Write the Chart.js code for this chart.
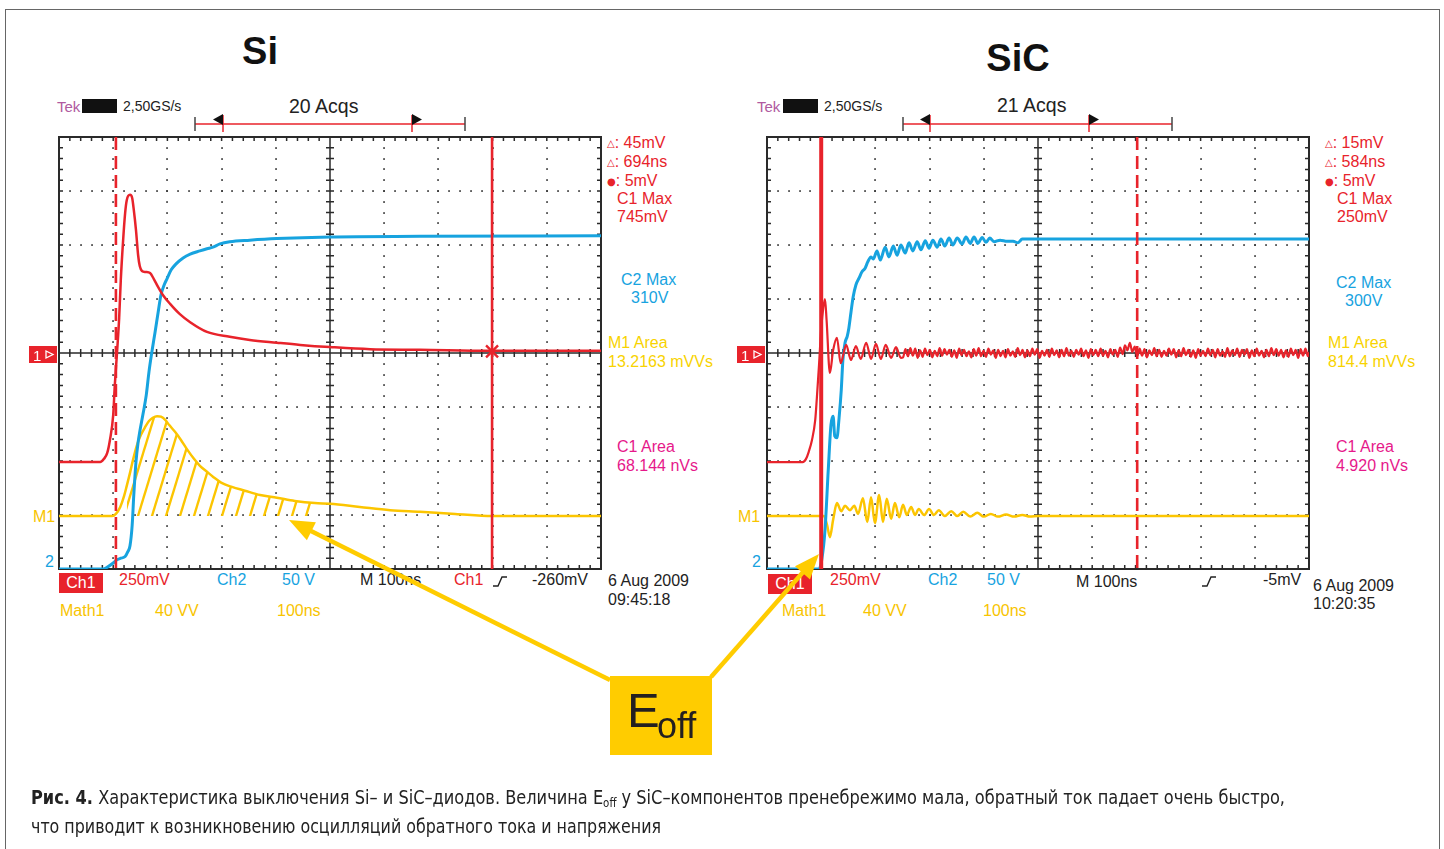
<!DOCTYPE html>
<html><head><meta charset="utf-8">
<script src="https://cdn.jsdelivr.net/npm/chart.js@4.4.1/dist/chart.umd.min.js"></script>
<style>
html,body{margin:0;padding:0;background:#fff;}
body{width:1444px;height:849px;position:relative;overflow:hidden;font-family:"Liberation Sans",Arimo,Arial,sans-serif;}
.frame{position:absolute;left:5px;top:9px;width:1435px;height:900px;border:1.5px solid #666;box-sizing:border-box;}
.t{position:absolute;white-space:nowrap;line-height:1;}
.g{font-family:"DejaVu Sans",sans-serif;font-size:10px;vertical-align:1px;}
.box{position:absolute;color:#fff;text-align:center;background:#e8232b;font-size:16px;}
canvas{position:absolute;}
#ov{position:absolute;left:0;top:0;}
.cap{position:absolute;left:31px;white-space:nowrap;line-height:1;font-family:"Liberation Sans Narrow","DejaVu Sans Condensed","Roboto",sans-serif;font-size:19px;color:#222;transform-origin:0 0;}
.cap sub{font-size:12px;vertical-align:-3px;line-height:0;}
</style></head><body>
<div class="frame"></div>
<div id="labels"></div>
<canvas id="si" width="566" height="456" style="left:47px;top:125px"></canvas>
<canvas id="sic" width="566" height="456" style="left:755px;top:125px"></canvas>
<svg id="ov" width="1444" height="849" xmlns="http://www.w3.org/2000/svg">
  <line x1="195" y1="124" x2="465" y2="124" stroke="#e8232b" stroke-width="1.5"/>
  <line x1="195" y1="117" x2="195" y2="131" stroke="#444" stroke-width="1.5"/>
  <line x1="465" y1="117" x2="465" y2="131" stroke="#444" stroke-width="1.5"/>
  <line x1="223" y1="115" x2="223" y2="132" stroke="#e8232b" stroke-width="1.5"/>
  <line x1="412" y1="115" x2="412" y2="132" stroke="#e8232b" stroke-width="1.5"/>
  <polygon points="213,119.5 223,114 223,125" fill="#111"/>
  <polygon points="422,119.5 412,114 412,125" fill="#111"/>
  <line x1="903" y1="124" x2="1172" y2="124" stroke="#e8232b" stroke-width="1.5"/>
  <line x1="903" y1="117" x2="903" y2="131" stroke="#444" stroke-width="1.5"/>
  <line x1="1172" y1="117" x2="1172" y2="131" stroke="#444" stroke-width="1.5"/>
  <line x1="930" y1="115" x2="930" y2="132" stroke="#e8232b" stroke-width="1.5"/>
  <line x1="1089" y1="115" x2="1089" y2="132" stroke="#e8232b" stroke-width="1.5"/>
  <polygon points="920,119.5 930,114 930,125" fill="#111"/>
  <polygon points="1099,119.5 1089,114 1089,125" fill="#111"/>
  <rect x="29" y="346" width="28" height="17" fill="#e8232b"/>
  <text x="33" y="360.5" font-size="15" fill="#fff" font-family="Liberation Sans, Arial, sans-serif">1</text>
  <polygon points="46,351 53,354.5 46,358" fill="none" stroke="#fff" stroke-width="1.3"/>
  <rect x="737" y="346" width="28" height="17" fill="#e8232b"/>
  <text x="741" y="360.5" font-size="15" fill="#fff" font-family="Liberation Sans, Arial, sans-serif">1</text>
  <polygon points="754,351 761,354.5 754,358" fill="none" stroke="#fff" stroke-width="1.3"/>
  <polyline points="493,586 498,586 502,577 507,577" fill="none" stroke="#222" stroke-width="1.4"/>
  <polyline points="1202,586 1207,586 1211,577 1216,577" fill="none" stroke="#222" stroke-width="1.4"/>
  <line x1="610" y1="680" x2="309" y2="530" stroke="#ffcc00" stroke-width="4.5"/>
  <polygon points="289,520 306.9,540.2 315.9,522.3" fill="#ffcc00"/>
  <line x1="711" y1="677" x2="804" y2="571" stroke="#ffcc00" stroke-width="4.5"/>
  <polygon points="819,554 795,566.2 810,579.4" fill="#ffcc00"/>
</svg>
<div style="position:absolute;left:610px;top:676px;width:102px;height:79px;background:#ffcc00;">
  <span class="t" style="left:17px;top:9.5px;font-size:49px;color:#231f20;">E</span><span class="t" style="left:47px;top:31.5px;font-size:36px;color:#231f20;">off</span>
</div>
<div id="cap1" class="cap" style="top:788px;"><b>Рис. 4.</b> Характеристика выключения Si– и SiC–диодов. Величина E<sub>off</sub> у SiC–компонентов пренебрежимо мала, обратный ток падает очень быстро,</div>
<div id="cap2" class="cap" style="top:817px;">что приводит к возникновению осцилляций обратного тока и напряжения</div>
<script>
// ---------- DATA (time in ns, 100 ns/div; amplitude in screen divisions) ----------
const siCh1 = [[0,-2.02],[76,-2.02],[83,-1.96],[89,-1.85],[94,-1.61],[100,-1.15],[103,-0.59],[107,0],[111,0.65],[114,1.35],[118,2.04],[122,2.59],[125,2.83],[131,2.93],[135,2.87],[138,2.65],[142,2.28],[146,1.81],[149,1.61],[153,1.52],[160,1.50],[168,1.48],[175,1.37],[183,1.22],[192,1.07],[205,0.91],[223,0.72],[242,0.57],[273,0.39],[315,0.30],[352,0.24],[402,0.19],[445,0.15],[500,0.11],[574,0.07],[666,0.06],[795,0.04],[1000,0.04]];
const siCh2 = [[0,-4],[81,-4],[90,-3.96],[100,-3.89],[107,-3.83],[114,-3.80],[122,-3.77],[127,-3.68],[131,-3.57],[135,-3.19],[138,-2.63],[142,-2.02],[146,-1.65],[149,-1.46],[155,-1.13],[161,-0.78],[166,-0.35],[172,0.06],[177,0.37],[183,0.76],[188,1.07],[194,1.26],[199,1.37],[207,1.54],[216,1.65],[229,1.76],[242,1.83],[260,1.89],[273,1.93],[284,1.96],[297,2.02],[315,2.06],[352,2.09],[402,2.12],[500,2.15],[666,2.16],[1000,2.17]];
const siM1 = [[0,-3.02],[98,-3.02],[105,-2.98],[113,-2.85],[120,-2.65],[125,-2.46],[131,-2.22],[137,-1.96],[144,-1.70],[151,-1.52],[159,-1.37],[166,-1.26],[173,-1.20],[181,-1.17],[188,-1.18],[196,-1.24],[203,-1.33],[214,-1.46],[225,-1.61],[236,-1.78],[249,-1.96],[260,-2.09],[273,-2.20],[284,-2.29],[301,-2.41],[319,-2.48],[343,-2.55],[371,-2.63],[402,-2.68],[435,-2.74],[472,-2.78],[500,-2.79],[555,-2.85],[611,-2.91],[666,-2.94],[731,-2.98],[799,-3.02],[1000,-3.02]];
const siHatchNs = [122, 475];
const m1Ground = -3.02;
const siCursorsNs = [105, 799];        // dashed, solid
const siMarkNs = [799, 0.03];

const sicCh1Ring = [[0,-2.02],[66,-2.02],[72,-1.96],[77,-1.83],[83,-1.61],[89,-1.24],[92,-0.83],[96,-0.22],[100,0.45],[104,0.85],[107,1.0],[110,0.6],[116,-0.37],[122,0.05],[129,0.28],[136,-0.19],[146,0.15],[155,-0.13],[164,0.13],[173,-0.11],[183,0.19],[192,-0.11],[201,0.17],[210,-0.11],[219,0.15],[229,-0.09],[238,0.11],[247,-0.09]];
const sicCh1NoiseStartNs = 251, sicSampleNs = 4.5;
const sicCh1Noise = [-0.08,0.07,-0.06,0.09,-0.05,0.08,-0.09,0.05,-0.07,0.08,
 -0.04,0.06,-0.08,0.04,-0.06,0.09,-0.05,0.07,-0.03,0.06,
 -0.07,0.05,-0.09,0.08,-0.04,0.06,-0.06,0.03,-0.08,0.07,
 -0.05,0.09,-0.06,0.04,-0.07,0.08,-0.03,0.05,-0.09,0.06,
 -0.06,0.04,-0.08,0.07,-0.05,0.03,-0.07,0.09,-0.04,0.06,
 -0.08,0.05,-0.06,0.08,-0.03,0.07,-0.09,0.04,-0.05,0.06,
 -0.07,0.08,-0.04,0.05,-0.08,0.06,-0.06,0.09,-0.05,0.04,
 -0.07,0.06,-0.03,0.08,-0.06,0.05,-0.09,0.07,-0.04,0.06,
 -0.06,0.08,-0.05,0.04,-0.08,0.07,-0.03,0.06,-0.07,0.10,
 -0.02,0.14,0.05,0.19,0.02,0.12,-0.06,0.08,-0.05,0.07,
 -0.08,0.05,-0.04,0.09,-0.06,0.06,-0.07,0.04,-0.05,0.08,
 -0.03,0.07,-0.08,0.05,-0.06,0.09,-0.04,0.06,-0.07,0.05,
 -0.09,0.07,-0.05,0.04,-0.06,0.08,-0.04,0.06,-0.08,0.07,
 -0.05,0.03,-0.07,0.09,-0.06,0.05,-0.04,0.08,-0.07,0.06,
 -0.03,0.07,-0.09,0.05,-0.06,0.08,-0.05,0.04,-0.08,0.06,
 -0.06,0.09,-0.04,0.07,-0.05,0.06,-0.08,0.05,-0.07,0.08,
 -0.04,0.06,-0.09,0.07,-0.05,0.08,-0.06];
const sicCh2 = [[0,-4],[96,-4],[101,-3.83],[107,-3.28],[113,-2.17],[118,-1.33],[122,-1.17],[125,-1.54],[129,-1.57],[133,-1.20],[137,-0.69],[140,-0.13],[144,0.19],[148,0.31],[151,0.46],[155,0.76],[159,1.04],[164,1.26],[170,1.39],[175,1.50],[181,1.57],[186,1.69],[192,1.78],[196,1.74],[203,1.89],[209,1.72],[218,1.96],[225,1.78],[233,1.98],[240,1.81],[247,2.00],[255,1.85],[262,2.04],[269,1.89],[277,2.06],[284,1.91],[292,2.08],[299,1.94],[306,2.09],[314,1.96],[321,2.11],[328,1.98],[336,2.13],[343,2.0],[351,2.13],[360,2.02],[367,2.15],[375,2.03],[382,2.15],[389,2.03],[397,2.14],[404,2.05],[411,2.13],[419,2.06],[430,2.09],[443,2.07],[454,2.07],[463,2.04],[471,2.11],[482,2.11],[500,2.11],[1000,2.11]];
const sicM1 = [[0,-3.02],[105,-3.02],[111,-3.19],[116,-3.41],[122,-3.09],[129,-2.78],[137,-2.93],[144,-2.83],[153,-2.91],[161,-2.83],[168,-2.98],[177,-2.69],[185,-3.13],[192,-2.67],[199,-3.15],[207,-2.63],[214,-3.13],[221,-2.70],[229,-3.07],[236,-2.78],[244,-3.04],[251,-2.81],[258,-3.0],[266,-2.85],[273,-3.0],[280,-2.89],[290,-3.0],[299,-2.89],[308,-3.0],[317,-2.91],[328,-3.02],[340,-2.93],[351,-3.02],[362,-2.94],[375,-3.03],[388,-2.96],[400,-3.03],[413,-2.98],[426,-3.03],[441,-2.99],[456,-3.03],[471,-3.0],[485,-3.03],[500,-3.02],[1000,-3.02]];
const sicCursorsNs = [683, 100];     // dashed, solid

// ---------- TEXT ----------
const siTexts = [
 ['Tek',57,106,15,'#b05aa0'],['2,50GS/s',123,106,14,'#222'],['20 Acqs',289,107,19.5,'#222'],
 ['<span class="g">△</span>: 45mV',607,143,16,'#e8232b'],['<span class="g">△</span>: 694ns',607,162,16,'#e8232b'],['<span class="g">●</span>: 5mV',607,181,16,'#e8232b'],
 ['C1 Max',617,199,16,'#e8232b'],['745mV',617,217,16,'#e8232b'],
 ['C2 Max',621,280,16,'#17a3df'],['310V',631,298,16,'#17a3df'],
 ['M1 Area',608,343,16,'#f8d300'],['13.2163 mVVs',608,362,16,'#f8d300'],
 ['C1 Area',617,447,16,'#e6188a'],['68.144 nVs',617,466,16,'#e6188a'],
 ['6 Aug 2009',608,581,16,'#222'],['09:45:18',608,600,16,'#222'],
 ['250mV',119,580,16,'#e8232b'],['Ch2',217,580,16,'#17a3df'],['50 V',282,580,16,'#17a3df'],
 ['M 100ns',360,580,16,'#222'],['Ch1',454,580,16,'#e8232b'],['-260mV',532,580,16,'#222'],
 ['Math1',60,611,16,'#f8c400'],['40 VV',155,611,16,'#f8c400'],['100ns',277,611,16,'#f8c400'],
 ['M1',33,517,16,'#f8c400'],['2',45,562,16,'#17a3df']
];
const sicTexts = [
 ['Tek',757,106,15,'#b05aa0'],['2,50GS/s',824,106,14,'#222'],['21 Acqs',997,106,19.5,'#222'],
 ['<span class="g">△</span>: 15mV',1325,143,16,'#e8232b'],['<span class="g">△</span>: 584ns',1325,162,16,'#e8232b'],['<span class="g">●</span>: 5mV',1325,181,16,'#e8232b'],
 ['C1 Max',1337,199,16,'#e8232b'],['250mV',1337,217,16,'#e8232b'],
 ['C2 Max',1336,283,16,'#17a3df'],['300V',1345,301,16,'#17a3df'],
 ['M1 Area',1328,343,16,'#f8d300'],['814.4 mVVs',1328,362,16,'#f8d300'],
 ['C1 Area',1336,447,16,'#e6188a'],['4.920 nVs',1336,466,16,'#e6188a'],
 ['6 Aug 2009',1313,586,16,'#222'],['10:20:35',1313,604,16,'#222'],
 ['250mV',830,580,16,'#e8232b'],['Ch2',928,580,16,'#17a3df'],['50 V',987,580,16,'#17a3df'],
 ['M 100ns',1076,582,16,'#222'],['-5mV',1263,580,16,'#222'],
 ['Math1',782,611,16,'#f8c400'],['40 VV',863,611,16,'#f8c400'],['100ns',983,611,16,'#f8c400'],
 ['M1',738,517,16,'#f8c400'],['2',752,562,16,'#17a3df']
];

const L = document.getElementById('labels');
function T(html,x,yc,fs,color,weight){const d=document.createElement('div');d.className='t';d.innerHTML=html;d.style.left=x+'px';d.style.top=(yc-0.49*fs)+'px';d.style.fontSize=fs+'px';d.style.color=color;if(weight)d.style.fontWeight=weight;L.appendChild(d);return d;}
siTexts.concat(sicTexts).forEach(a=>T(...a));
function B(x,y,w,h){const d=document.createElement('div');d.className='box';d.textContent='Ch1';d.style.left=x+'px';d.style.top=y+'px';d.style.width=w+'px';d.style.height=h+'px';d.style.lineHeight=h+'px';L.appendChild(d);}
B(59,573,44,20);B(768,574,44,20);
function R(x,y,w,h){const d=document.createElement('div');d.style.cssText='position:absolute;background:#111;left:'+x+'px;top:'+y+'px;width:'+w+'px;height:'+h+'px';L.appendChild(d);}
R(82,99,35,14);R(783,99,35,14);
const t1=document.createElement('div');t1.className='t';t1.style.cssText='left:160px;width:200px;text-align:center;top:31.8px;font-size:38px;font-weight:bold;color:#111';t1.textContent='Si';L.appendChild(t1);
const t2=document.createElement('div');t2.className='t';t2.style.cssText='left:918px;width:200px;text-align:center;top:38.8px;font-size:38px;font-weight:bold;color:#111';t2.textContent='SiC';L.appendChild(t2);

[['cap1',1254],['cap2',630]].forEach(([id,w])=>{const e=document.getElementById(id);const r=e.getBoundingClientRect().width;e.style.transform='scaleX('+(w/r)+')';});

// ---------- CHARTS ----------
const RED='#e8232b', BLUE='#17a3df', YEL='#fcc500';
const toXY = arr => arr.map(p=>({x:p[0],y:p[1]}));

function hatchPattern(){
  const w=14,h=46,c=document.createElement('canvas');c.width=w;c.height=h;
  const g=c.getContext('2d');g.strokeStyle=YEL;g.lineWidth=2.4;
  for(const n of [0,1,2]){g.beginPath();g.moveTo(w*(n+1),-h);g.lineTo(w*(n-2),2*h);g.stroke();}
  return g.createPattern(c,'repeat');
}

const scopeDeco = {
  id:'scopeDeco',
  beforeDatasetsDraw(chart,args,o){
    const {ctx,chartArea:a,scales:{x,y}}=chart;
    const X=v=>x.getPixelForValue(v), Y=v=>y.getPixelForValue(v);
    const xs=[],ys=[];
    for(let i=0;i<=50;i++) xs.push(i*20);
    for(let i=0;i<=40;i++) ys.push(-4+i*0.2);
    ctx.save();
    ctx.fillStyle='#3a3a3a';
    for(let d=100;d<1000;d+=100){ if(d===500) continue; const px=Math.round(X(d));
      ys.forEach((v,k)=>{ if(k===0||k===40||k===20) return; ctx.fillRect(px-0.8,Math.round(Y(v))-0.8,1.7,1.7);});}
    for(let d=-3;d<=3;d++){ if(d===0) continue; const py=Math.round(Y(d));
      xs.forEach((v,k)=>{ if(k===0||k===50||k===25) return; ctx.fillRect(Math.round(X(v))-0.8,py-0.8,1.7,1.7);});}
    ctx.strokeStyle='#2a2a2a';
    const cx=X(500), cy=Y(0);
    ctx.lineWidth=1.5;
    ctx.beginPath();
    ctx.moveTo(a.left,cy);ctx.lineTo(a.right,cy);
    ctx.moveTo(cx,a.top);ctx.lineTo(cx,a.bottom);
    xs.forEach(v=>{const px=X(v);ctx.moveTo(px,cy-4);ctx.lineTo(px,cy+4);
      ctx.moveTo(px,a.top);ctx.lineTo(px,a.top+4);ctx.moveTo(px,a.bottom);ctx.lineTo(px,a.bottom-4);});
    ys.forEach(v=>{const py=Y(v);ctx.moveTo(cx-4,py);ctx.lineTo(cx+4,py);
      ctx.moveTo(a.left,py);ctx.lineTo(a.left+4,py);ctx.moveTo(a.right,py);ctx.lineTo(a.right-4,py);});
    ctx.stroke();
    ctx.lineWidth=2;
    ctx.strokeRect(a.left,a.top,a.right-a.left,a.bottom-a.top);
    ctx.restore();
  },
  afterDatasetsDraw(chart,args,o){
    const {ctx,chartArea:a,scales:{x,y}}=chart;
    ctx.save();
    ctx.strokeStyle=RED;
    (o.cursors||[]).forEach(c=>{
      const px=x.getPixelForValue(c.x);
      ctx.lineWidth=c.w||2.6;
      ctx.setLineDash(c.dash?[13,6]:[]);
      ctx.beginPath();ctx.moveTo(px,a.top);ctx.lineTo(px,a.bottom);ctx.stroke();
    });
    ctx.setLineDash([]);
    (o.marks||[]).forEach(m=>{
      const px=x.getPixelForValue(m[0]), py=y.getPixelForValue(m[1]);
      ctx.lineWidth=2.4;ctx.beginPath();
      ctx.moveTo(px-6,py-6);ctx.lineTo(px+6,py+6);ctx.moveTo(px+6,py-6);ctx.lineTo(px-6,py+6);ctx.stroke();
    });
    ctx.restore();
  }
};

function makeScope(id,datasets,cursors,marks){
  new Chart(document.getElementById(id),{
    type:'line',
    data:{datasets},
    options:{
      responsive:false,animation:false,devicePixelRatio:1,events:[],
      layout:{padding:12},
      scales:{x:{type:'linear',min:0,max:1000,display:false},y:{type:'linear',min:-4,max:4,display:false}},
      elements:{point:{radius:0},line:{cubicInterpolationMode:'monotone',borderJoinStyle:'round',borderCapStyle:'round'}},
      plugins:{legend:{display:false},tooltip:{enabled:false},scopeDeco:{cursors,marks}}
    },
    plugins:[scopeDeco]
  });
}

const siHatch = siM1.filter(p=>p[0]>=siHatchNs[0]&&p[0]<=siHatchNs[1]);
makeScope('si',[
  {data:toXY(siCh1),borderColor:RED,borderWidth:2.5,fill:false},
  {data:toXY(siCh2),borderColor:BLUE,borderWidth:3,fill:false},
  {data:toXY(siM1),borderColor:YEL,borderWidth:2.5,fill:false},
  {data:toXY(siHatch),borderColor:'rgba(0,0,0,0)',borderWidth:0,backgroundColor:hatchPattern(),fill:{value:m1Ground}}
],[{x:siCursorsNs[0],dash:true},{x:siCursorsNs[1],dash:false}],[siMarkNs]);

const sicCh1 = sicCh1Ring.concat(sicCh1Noise.map((v,i)=>[sicCh1NoiseStartNs+i*sicSampleNs,v])).concat([[1000,0.0]]);
makeScope('sic',[
  {data:toXY(sicCh1),borderColor:RED,borderWidth:2.2,fill:false},
  {data:toXY(sicCh2),borderColor:BLUE,borderWidth:3,fill:false},
  {data:toXY(sicM1),borderColor:YEL,borderWidth:2.5,fill:false}
],[{x:sicCursorsNs[0],dash:true},{x:sicCursorsNs[1],dash:false,w:4}],[]);
</script>
</body></html>
